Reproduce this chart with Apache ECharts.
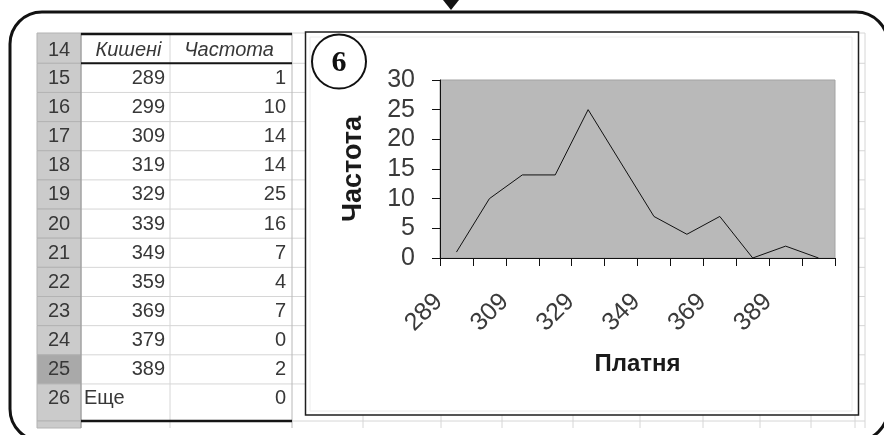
<!DOCTYPE html>
<html>
<head>
<meta charset="utf-8">
<script src="https://cdn.jsdelivr.net/npm/echarts@6/dist/echarts.min.js"></script>
<style>
html,body{margin:0;padding:0;background:#ffffff;}
#c{width:884px;height:435px;}
</style>
</head>
<body>
<div id="c"></div>
<script>
// ---------------- data ----------------
const rowNumbers = [14, 15, 16, 17, 18, 19, 20, 21, 22, 23, 24, 25, 26];
const tableHeaders = ['Кишені', 'Частота'];
const categories = ['289', '299', '309', '319', '329', '339', '349', '359', '369', '379', '389', 'Еще'];
const frequency = [1, 10, 14, 14, 25, 16, 7, 4, 7, 0, 2, 0];
const yMin = 0, yMax = 30, yInterval = 5;
const xAxisName = 'Платня';
const yAxisName = 'Частота';
const badgeText = '6';
const selectedRowNumber = 25;

// ---------------- layout ----------------
const SANS = '"Liberation Sans", Arial, sans-serif';
const SERIF = '"Liberation Serif", "Times New Roman", serif';
const hdrL = 37, hdrR = 81, colAR = 170, colBR = 292, sheetR = 865;
const tableTop = 33, headBottom = 63.3, rowH = 29.15, lastBottom = 421, sheetBottom = 428;

// row boundaries
const rowTops = [tableTop];
for (let k = 0; k < rowNumbers.length - 1; k++) rowTops.push(headBottom + k * rowH);
const rowBottoms = rowTops.slice(1).concat([lastBottom]);

const g = [];
// spreadsheet gridlines (behind everything)
const hLineYs = rowTops.concat([lastBottom]);
hLineYs.forEach(function (y) {
  g.push({type: 'line', z: -20, shape: {x1: hdrR, y1: y, x2: sheetR, y2: y},
    style: {stroke: '#d6d6d6', lineWidth: 1}});
});
[colAR, colBR, 363, 441, 502, 573, 640, 703, 760, 811, 855, sheetR].forEach(function (x) {
  g.push({type: 'line', z: -20, shape: {x1: x, y1: tableTop, x2: x, y2: sheetBottom},
    style: {stroke: x === colBR ? '#b8b8b8' : '#d6d6d6', lineWidth: 1}});
});
// row header cells
rowNumbers.forEach(function (n, i) {
  const top = rowTops[i], bot = rowBottoms[i];
  g.push({type: 'rect', z: -19, shape: {x: hdrL, y: top, width: hdrR - hdrL, height: bot - top},
    style: {fill: n === selectedRowNumber ? '#a9a9a9' : '#cbcbcb', stroke: '#b3b3b3', lineWidth: 1}});
  g.push({type: 'text', z: -18, style: {text: String(n), x: (hdrL + hdrR) / 2, y: top + (i === 0 ? 17.5 : 15),
    font: '20px ' + SANS, fill: '#383838', textAlign: 'center', textVerticalAlign: 'middle'}});
});
g.push({type: 'rect', z: -19, shape: {x: hdrL, y: lastBottom, width: hdrR - hdrL, height: sheetBottom - lastBottom},
  style: {fill: '#cbcbcb', stroke: '#b3b3b3', lineWidth: 1}});
g.push({type: 'line', z: -17, shape: {x1: hdrR, y1: tableTop, x2: hdrR, y2: sheetBottom}, style: {stroke: '#9a9a9a', lineWidth: 1}});
// table header text
g.push({type: 'text', z: -18, style: {text: tableHeaders[0], x: (hdrR + colAR) / 2 + 3, y: tableTop + 17.5,
  font: 'italic 20px ' + SANS, fill: '#383838', textAlign: 'center', textVerticalAlign: 'middle'}});
g.push({type: 'text', z: -18, style: {text: tableHeaders[1], x: (colAR + colBR) / 2 - 2, y: tableTop + 17.5,
  font: 'italic 20px ' + SANS, fill: '#383838', textAlign: 'center', textVerticalAlign: 'middle'}});
// table body text
categories.forEach(function (c, j) {
  const i = j + 1, y = rowTops[i] + 15;
  const isNum = /^\d+$/.test(c);
  g.push({type: 'text', z: -18, style: {text: c, x: isNum ? colAR - 5 : hdrR + 3, y: y,
    font: '20px ' + SANS, fill: '#383838', textAlign: isNum ? 'right' : 'left', textVerticalAlign: 'middle'}});
  g.push({type: 'text', z: -18, style: {text: String(frequency[j]), x: colBR - 6, y: y,
    font: '20px ' + SANS, fill: '#383838', textAlign: 'right', textVerticalAlign: 'middle'}});
});
// heavy borders of the table
[[tableTop + 1, 2.5], [headBottom, 2], [lastBottom, 2.5]].forEach(function (p) {
  g.push({type: 'line', z: -16, shape: {x1: hdrR, y1: p[0], x2: colBR, y2: p[0]}, style: {stroke: '#151515', lineWidth: p[1]}});
});
// chart object box
g.push({type: 'rect', z: -10, shape: {x: 305.5, y: 32, width: 553, height: 383},
  style: {fill: '#ffffff', stroke: '#1e1e1e', lineWidth: 1.5}});
g.push({type: 'rect', z: -9, shape: {x: 310, y: 37, width: 542, height: 374},
  style: {fill: 'none', stroke: '#ececec', lineWidth: 1}});
// badge
g.push({type: 'circle', z: 10, shape: {cx: 339, cy: 61.5, r: 27}, style: {fill: '#ffffff', stroke: '#111', lineWidth: 2}});
g.push({type: 'text', z: 11, style: {text: badgeText, x: 339, y: 63, font: 'bold 30px ' + SERIF, fill: '#111',
  textAlign: 'center', textVerticalAlign: 'middle'}});
// outer frame and pointer
g.push({type: 'rect', z: 12, shape: {x: 10, y: 12, width: 878, height: 429, r: 32},
  style: {fill: 'none', stroke: '#121212', lineWidth: 3}});
g.push({type: 'polygon', z: 12, shape: {points: [[443, 0], [459, 0], [451, 10]]}, style: {fill: '#121212'}});

const chart = echarts.init(document.getElementById('c'), null, {renderer: 'canvas'});
chart.setOption({
  animation: false,
  backgroundColor: '#ffffff',
  grid: {left: 440, right: 49, top: 80, bottom: 177, show: true, backgroundColor: '#b9b9b9',
    borderColor: '#a3a3a3', borderWidth: 1},
  xAxis: {
    type: 'category', data: categories, boundaryGap: true,
    axisLine: {lineStyle: {color: '#111', width: 1}},
    axisTick: {show: true, interval: 0, length: 8, lineStyle: {color: '#111', width: 1}},
    axisLabel: {interval: 1, rotate: 45, margin: 22, padding: [0, 25, 0, 0], fontSize: 25,
      fontFamily: SANS, color: '#3a3a3a'},
    splitLine: {show: false},
    name: xAxisName, nameLocation: 'middle', nameGap: 94,
    nameTextStyle: {fontSize: 24, fontWeight: 'bold', fontFamily: SANS, color: '#1a1a1a'}
  },
  yAxis: {
    type: 'value', min: yMin, max: yMax, interval: yInterval,
    axisLine: {show: true, lineStyle: {color: '#111', width: 1}},
    axisTick: {show: true, length: 8, lineStyle: {color: '#111', width: 1}},
    axisLabel: {margin: 25, fontSize: 25, fontFamily: SANS, color: '#3a3a3a'},
    splitLine: {show: false},
    name: yAxisName, nameLocation: 'middle', nameGap: 73, nameRotate: 90,
    nameTextStyle: {fontSize: 27, fontWeight: 'bold', fontFamily: SANS, color: '#1a1a1a'}
  },
  graphic: {elements: g},
  series: [{
    type: 'line', data: frequency, symbol: 'none', silent: true,
    lineStyle: {color: '#111', width: 1}
  }]
});
</script>
</body>
</html>
